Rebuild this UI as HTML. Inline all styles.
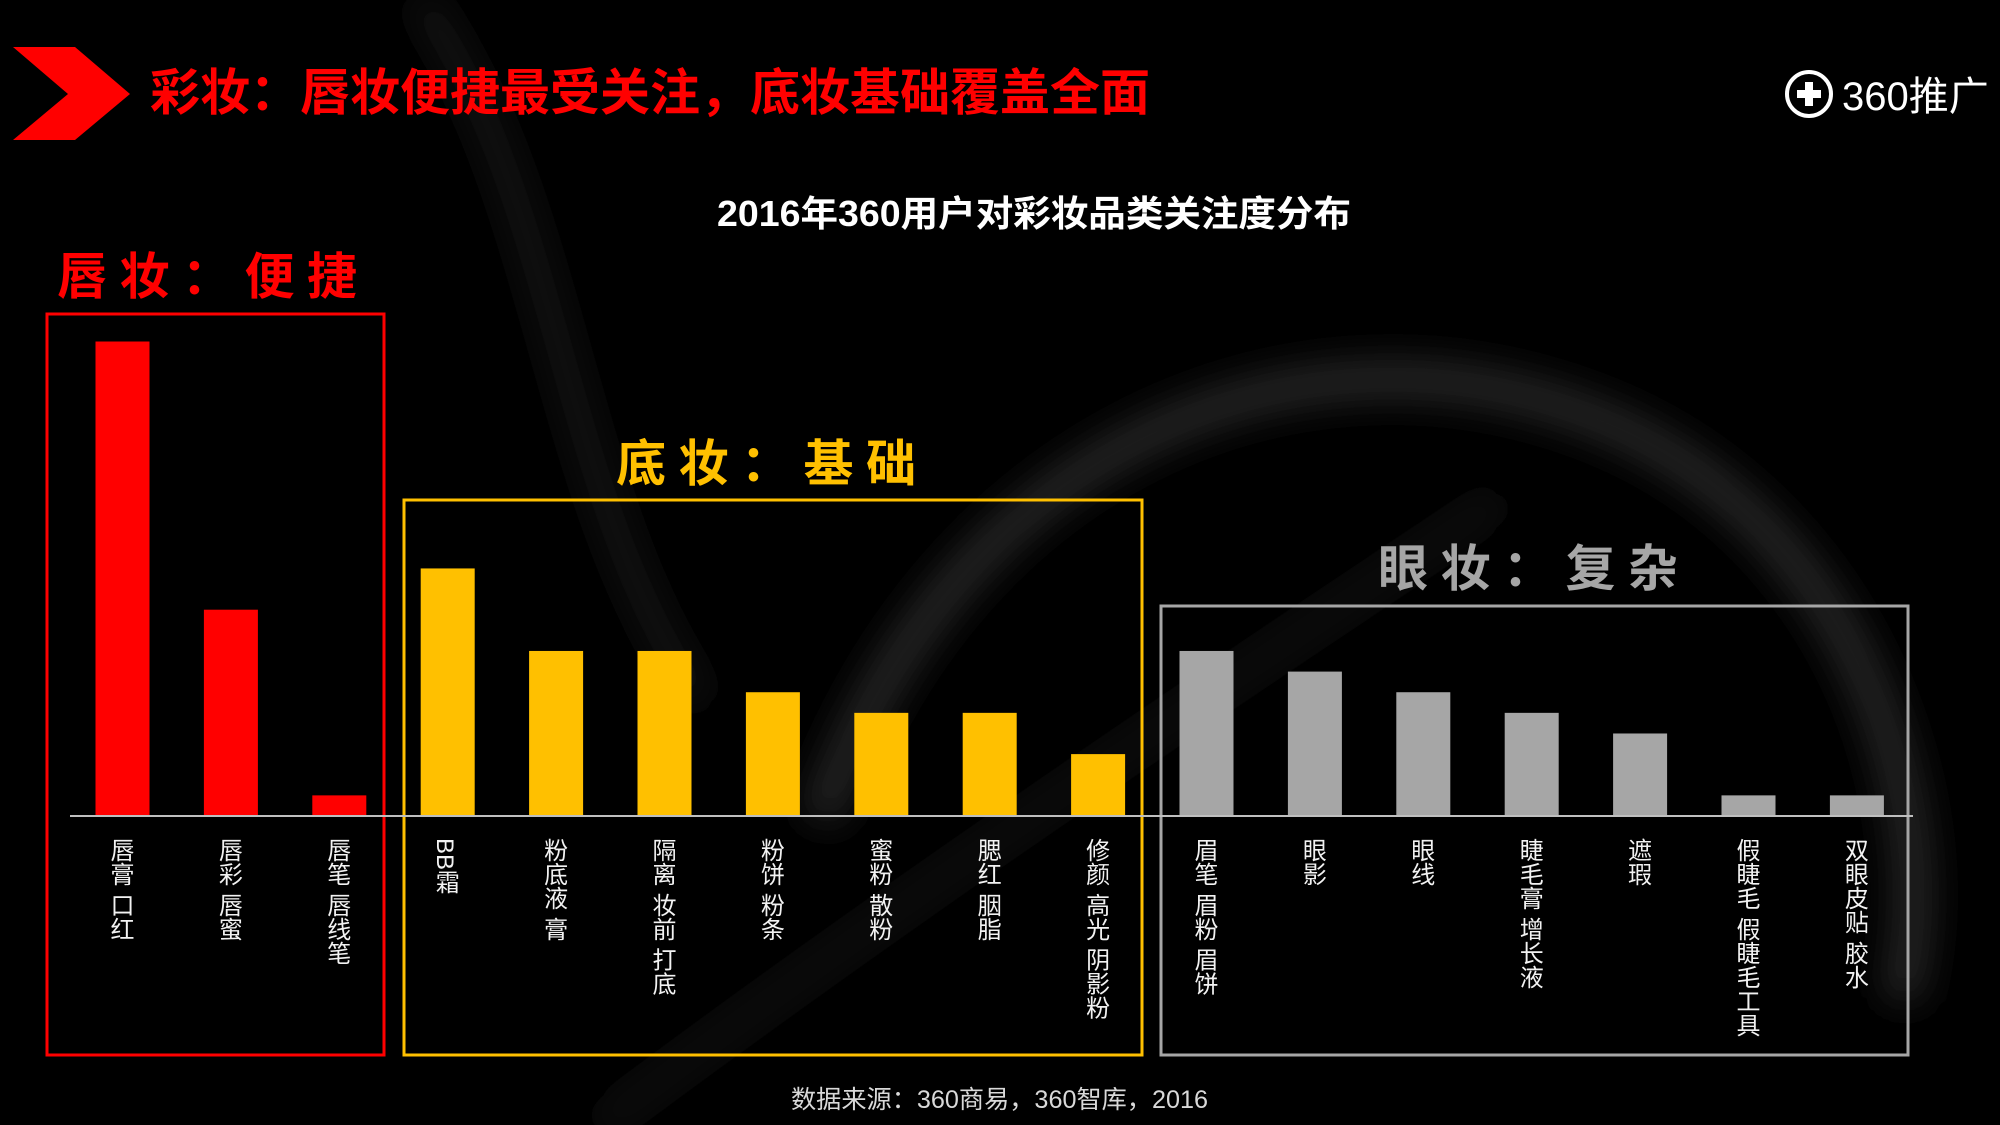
<!DOCTYPE html>
<html><head><meta charset="utf-8">
<style>
html,body{margin:0;padding:0;background:#000;}
#root{position:relative;width:2000px;height:1125px;overflow:hidden;background:#000;font-family:"Liberation Sans","Noto Sans CJK SC",sans-serif;}
svg{position:absolute;left:0;top:0;}
</style></head>
<body>
<div id="root">
<svg id="chart" width="2000" height="1125" viewBox="0 0 2000 1125">
  <defs>
    <filter id="blur" x="-20%" y="-20%" width="140%" height="140%"><feGaussianBlur stdDeviation="18"/></filter>
  </defs>
  <g filter="url(#blur)" fill="none">
    <path d="M820 820 C 950 450, 1300 300, 1600 420 C 1850 520, 1950 800, 1900 1000" stroke="#3a3a3a" stroke-width="40" opacity="0.6"/>
    <path d="M420 0 C 560 200, 560 500, 700 700" stroke="#2a2a2a" stroke-width="30" opacity="0.5"/>
    <path d="M600 1125 C 900 900, 1200 700, 1500 500" stroke="#222" stroke-width="30" opacity="0.5"/>
  </g>
  <polygon points="13,47 75,47 130,94 75,140 13,140 68,94" fill="#ff0000"/>
  <text x="150" y="110" fill="#ff0000" font-size="50" font-weight="bold" textLength="1000" lengthAdjust="spacingAndGlyphs" font-family="Liberation Sans, Noto Sans CJK SC, sans-serif">彩妆：唇妆便捷最受关注，底妆基础覆盖全面</text>
  <g>
    <circle cx="1809" cy="94" r="22" fill="none" stroke="#fff" stroke-width="4"/>
    <rect x="1797" y="90" width="24" height="8" fill="#fff"/>
    <rect x="1805" y="82" width="8" height="24" fill="#fff"/>
    <text x="1842" y="110" fill="#fff" font-size="40" font-family="Liberation Sans, Noto Sans CJK SC, sans-serif">360推广</text>
  </g>
  <text x="717" y="226" fill="#fff" font-size="36" font-weight="bold" textLength="634" lengthAdjust="spacingAndGlyphs" font-family="Liberation Sans, Noto Sans CJK SC, sans-serif">2016年360用户对彩妆品类关注度分布</text>
  <text x="57" y="294" fill="#ff0000" font-size="50" font-weight="bold" textLength="300" lengthAdjust="spacing" font-family="Liberation Sans, Noto Sans CJK SC, sans-serif">唇妆：便捷</text>
  <text x="616" y="481" fill="#ffc000" font-size="50" font-weight="bold" textLength="300" lengthAdjust="spacing" font-family="Liberation Sans, Noto Sans CJK SC, sans-serif">底妆：基础</text>
  <text x="1378" y="586" fill="#a6a6a6" font-size="50" font-weight="bold" textLength="300" lengthAdjust="spacing" font-family="Liberation Sans, Noto Sans CJK SC, sans-serif">眼妆：复杂</text>
  <rect x="47" y="314" width="337" height="741" fill="none" stroke="#ff0000" stroke-width="3"/>
  <rect x="404" y="500" width="738" height="555" fill="none" stroke="#ffc000" stroke-width="3"/>
  <rect x="1161" y="606" width="747" height="449" fill="none" stroke="#a6a6a6" stroke-width="3"/>
  <g id="bars"></g>
  <line x1="70" y1="816" x2="1913" y2="816" stroke="#bfbfbf" stroke-width="2"/>
  <g id="labels"></g>
  <text x="791" y="1108" fill="#d9d9d9" font-size="25" textLength="417" lengthAdjust="spacingAndGlyphs" font-family="Liberation Sans, Noto Sans CJK SC, sans-serif">数据来源：360商易，360智库，2016</text>
</svg>
</div>
<script>
const categories = ["唇膏 口红","唇彩 唇蜜","唇笔 唇线笔","BB霜","粉底液 膏","隔离 妆前 打底","粉饼 粉条","蜜粉 散粉","腮红 胭脂","修颜 高光 阴影粉","眉笔 眉粉 眉饼","眼影","眼线","睫毛膏 增长液","遮瑕","假睫毛 假睫毛工具","双眼皮贴 胶水"];
const values = [23,10,1,12,8,8,6,5,5,3,8,7,6,5,4,1,1];
const groups = ["lip","lip","lip","base","base","base","base","base","base","base","eye","eye","eye","eye","eye","eye","eye"];
const groupColors = {lip:"#ff0000", base:"#ffc000", eye:"#a6a6a6"};

const baseY = 816, unit = 20.63, x0 = 122.5, step = 108.4, bw = 54;
function xPos(i){ return x0 + i*step; }
function yPos(v){ return baseY - v*unit; }
const NS = "http://www.w3.org/2000/svg";
const barsG = document.getElementById('bars');
const labelsG = document.getElementById('labels');
categories.forEach((c,i)=>{
  const r = document.createElementNS(NS,'rect');
  r.setAttribute('x', xPos(i)-bw/2);
  r.setAttribute('y', yPos(values[i]));
  r.setAttribute('width', bw);
  r.setAttribute('height', baseY - yPos(values[i]));
  r.setAttribute('fill', groupColors[groups[i]]);
  
  
  barsG.appendChild(r);
  const t = document.createElementNS(NS,'text');
  t.setAttribute('x', xPos(i)-3);
  t.setAttribute('y', 838);
  t.setAttribute('fill', '#f2f2f2');
  t.setAttribute('font-size', '24');
  t.setAttribute('font-family', 'Liberation Sans, Noto Sans CJK SC, sans-serif');
  t.setAttribute('style', 'writing-mode:vertical-rl;');
  t.textContent = c;
  
  
  labelsG.appendChild(t);
});
</script>
</body></html>
